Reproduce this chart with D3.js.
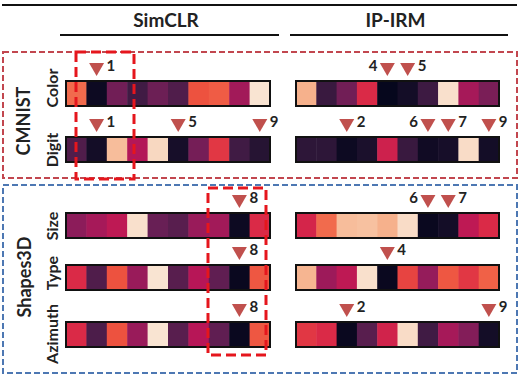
<!DOCTYPE html>
<html lang="en">

<body style="margin:0;background:#fff">
    <script type='text/javascript' src='https://d3js.org/d3.v7.min.js'></script>
    <script>

        // cell activations (0 = dark, 1 = light)
        const cells = d3.range(10);
        const rowNames = ["Color", "Digit", "Size", "Type", "Azimuth"];

        const simclrColor = [0.69, 0.03, 0.29, 0.17, 0.28, 0.21, 0.64, 0.66, 0.40, 0.98];
        const simclrDigit = [0.21, 0.05, 0.88, 0.44, 0.95, 0.06, 0.30, 0.58, 0.17, 0.10];
        const simclrSize = [0.35, 0.41, 0.47, 0.97, 0.27, 0.23, 0.38, 0.40, 0.03, 0.55];
        const simclrType = [0.55, 0.21, 0.64, 0.38, 0.98, 0.23, 0.45, 0.25, 0.02, 0.65];
        const simclrAzimuth = [0.55, 0.20, 0.64, 0.38, 0.98, 0.23, 0.45, 0.25, 0.02, 0.65];

        const ipirmColor = [0.85, 0.15, 0.29, 0.55, 0.01, 0.05, 0.16, 0.97, 0.41, 0.31];
        const ipirmDigit = [0.12, 0.12, 0.03, 0.07, 0.51, 0.15, 0.04, 0.06, 0.96, 0.05];
        const ipirmSize = [0.53, 0.69, 0.88, 0.89, 0.85, 0.96, 0.02, 0.05, 0.47, 0.55];
        const ipirmType = [0.86, 0.39, 0.47, 0.97, 0.02, 0.61, 0.37, 0.65, 0.58, 0.67];
        const ipirmAzimuth = [0.58, 0.55, 0.02, 0.23, 0.52, 0.96, 0.17, 0.41, 0.33, 0.05];

        // marked dimensions
        const simclrMarks = [[1], [1, 5, 9], [8], [8], [8]];
        const ipirmMarks = [[4, 5], [2, 6, 7, 9], [6, 7], [4], [2, 9]];

        const panels = [
            { title: "SimCLR", rows: [simclrColor, simclrDigit, simclrSize, simclrType, simclrAzimuth], marks: simclrMarks },
            { title: "IP-IRM", rows: [ipirmColor, ipirmDigit, ipirmSize, ipirmType, ipirmAzimuth], marks: ipirmMarks }
        ];

        // rocket-like palette
        const rocket = ["#03051a", "#221331", "#451c47", "#691f55", "#921c5b", "#b91657",
            "#d92847", "#ed503e", "#f47d57", "#f6a47c", "#f7c9aa", "#faebdd"];
        const color = d3.scaleLinear()
            .domain(rocket.map((c, i) => i / (rocket.length - 1)))
            .range(rocket)
            .interpolate(d3.interpolateRgb);

        const W = 522, H = 376;
        const font = "Lato, 'Open Sans', sans-serif";

        const svg = d3.select("body")
            .append("svg")
            .attr('width', W)
            .attr('height', H)
            .style("display", "block");

        const xScales = [
            d3.scaleBand().domain(cells).range([66, 270]),
            d3.scaleBand().domain(cells).range([296, 499])
        ];
        const y = d3.scaleOrdinal().domain(rowNames).range([81, 137, 213, 265, 322]);
        const barH = 25;

        // group boxes
        svg.append("rect").attr("x", 3).attr("y", 52).attr("width", 514).attr("height", 126)
            .attr("fill", "none").attr("stroke", "#c2474f").attr("stroke-width", 2).attr("stroke-dasharray", "6,3");
        svg.append("rect").attr("x", 3).attr("y", 185).attr("width", 514).attr("height", 188)
            .attr("fill", "none").attr("stroke", "#4d78b3").attr("stroke-width", 2).attr("stroke-dasharray", "6,3");

        // header rules
        svg.append("line").attr("x1", 2).attr("x2", 517).attr("y1", 5).attr("y2", 5)
            .attr("stroke", "#111").attr("stroke-width", 2);
        panels.forEach((p, i) => {
            const r = xScales[i].range();
            svg.append("line").attr("x1", r[0] - 6).attr("x2", r[1] + 9).attr("y1", 35).attr("y2", 35)
                .attr("stroke", "#111").attr("stroke-width", 2);
            svg.append("text").attr("x", (r[0] + r[1]) / 2 - 2).attr("y", 27)
                .attr("text-anchor", "middle").attr("font-family", font).attr("font-weight", "bold")
                .attr("font-size", 19).attr("fill", "#222").text(p.title);
        });

        // heatmap strips
        panels.forEach((p, i) => {
            const x = xScales[i];
            p.rows.forEach((vals, r) => {
                const g = svg.append("g");
                g.selectAll("rect")
                    .data(vals)
                    .enter()
                    .append("rect")
                    .attr("x", (d, j) => x(j))
                    .attr("y", y(rowNames[r]))
                    .attr("width", x.bandwidth() + 0.5)
                    .attr("height", barH)
                    .attr("fill", d => color(d));
                g.append("rect")
                    .attr("x", x.range()[0]).attr("y", y(rowNames[r]))
                    .attr("width", x.range()[1] - x.range()[0]).attr("height", barH)
                    .attr("fill", "none").attr("stroke", "#111").attr("stroke-width", 2);

                // triangles and numbers
                const marks = p.marks[r];
                marks.forEach(m => {
                    const cx = x(m) + x.bandwidth() / 2;
                    const top = y(rowNames[r]) - 18;
                    g.append("path")
                        .attr("d", `M${cx - 7.5},${top} L${cx + 7.5},${top} L${cx},${top + 13} Z`)
                        .attr("fill", "#c0504d");
                    const left = marks.includes(m + 1);
                    g.append("text")
                        .attr("x", left ? cx - 10 : cx + 10)
                        .attr("y", top + 8)
                        .attr("text-anchor", left ? "end" : "start")
                        .attr("font-family", font).attr("font-weight", "bold")
                        .attr("font-size", 15).attr("fill", "#222")
                        .text(m);
                });
            });
        });

        // rotated labels
        function vlabel(txt, cx, cy, size) {
            svg.append("text")
                .attr("transform", `translate(${cx},${cy}) rotate(-90)`)
                .attr("text-anchor", "middle").attr("dominant-baseline", "central")
                .attr("font-family", font).attr("font-weight", "bold")
                .attr("font-size", size).attr("fill", "#222")
                .text(txt);
        }
        vlabel("CMNIST", 23, 121, 18);
        vlabel("Shapes3D", 24, 277, 18);
        const labelY = [88, 150, 226, 273, 334];
        rowNames.forEach((n, r) => vlabel(n, 51, labelY[r], 16));

        // highlighted columns
        svg.append("rect").attr("x", 76).attr("y", 52).attr("width", 58).attr("height", 127)
            .attr("fill", "none").attr("stroke", "#e5161d").attr("stroke-width", 3).attr("stroke-dasharray", "10,5");
        svg.append("rect").attr("x", 208).attr("y", 188).attr("width", 58).attr("height", 167)
            .attr("fill", "none").attr("stroke", "#e5161d").attr("stroke-width", 3).attr("stroke-dasharray", "10,5");

    </script>

</body>

</html>
